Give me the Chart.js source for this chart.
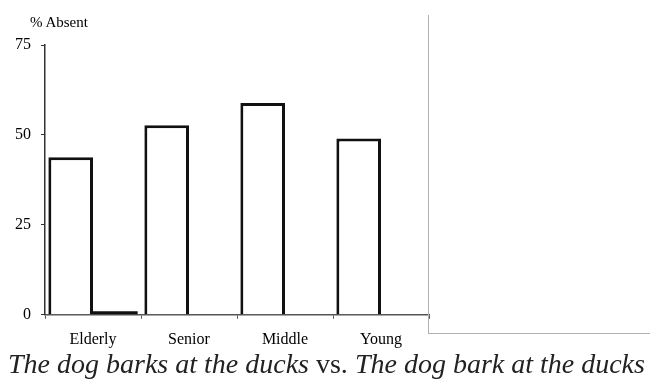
<!DOCTYPE html>
<html>
<head>
<meta charset="utf-8">
<script src="https://cdn.jsdelivr.net/npm/chart.js@4"></script>
<style>
  body { margin: 0; background: #fff; width: 650px; height: 383px; position: relative; overflow: hidden; }
  #wrap { position: absolute; left: 0; top: 0; width: 432px; height: 360px; }
  #yTitle { position: absolute; left: 30px; top: 14px; font: 15px "Liberation Serif", serif; color: #000; }
  #panel { position: absolute; left: 428px; top: 15px; width: 230px; height: 318px; border-left: 1px solid #b0b0b0; border-bottom: 1px solid #b0b0b0; }
  #caption { position: absolute; left: 8px; top: 348px; font: 28px "Liberation Serif", serif; color: #222; white-space: nowrap; }
  #caption i { font-style: italic; }
</style>
</head>
<body>
<div id="wrap"><canvas id="grafico"></canvas></div>
<div id="yTitle">% Absent</div>
<div id="panel"></div>
<div id="caption"><i>The dog barks at the ducks</i> vs. <i>The dog bark at the ducks</i></div>
<script>
const categorias = ['Elderly', 'Senior', 'Middle', 'Young'];
const ausenteBlanco = [43.8, 52.7, 58.9, 49.0];
const ausenteNegro = [1.0, 0, 0, 0];
const ticksY = [0, 25, 50, 75];

const ctx = document.getElementById('grafico').getContext('2d');
const myChart = new Chart(ctx, {
  type: 'bar',
  data: {
    labels: categorias,
    datasets: [
      {
        label: 'A',
        data: ausenteBlanco,
        backgroundColor: '#ffffff',
        borderColor: '#111111',
        borderWidth: 3,
        categoryPercentage: 0.93,
        barPercentage: 1.0,
      },
      {
        label: 'B',
        data: ausenteNegro,
        backgroundColor: '#111111',
        borderWidth: 0,
        categoryPercentage: 0.93,
        barPercentage: 1.0,
      },
    ],
  },
  options: {
    responsive: true,
    maintainAspectRatio: false,
    animation: false,
    layout: { padding: { top: 45, left: 5, right: 3, bottom: 0 } },
    plugins: { legend: { display: false }, tooltip: { enabled: false } },
    scales: {
      x: {
        grid: { drawOnChartArea: false, tickLength: 4, color: '#555' },
        border: { color: '#555', width: 1.5 },
        ticks: { color: '#000', font: { family: 'Liberation Serif', size: 16 }, padding: 11 },
      },
      y: {
        min: 0,
        max: 75,
        afterBuildTicks: (axis) => { axis.ticks = ticksY.map((v) => ({ value: v })); },
        grid: { drawOnChartArea: false, tickLength: 4, color: '#333' },
        border: { color: '#333', width: 1.5 },
        ticks: { color: '#000', font: { family: 'Liberation Serif', size: 16 }, padding: 10 },
      },
    },
  },
});
</script>
</body>
</html>
